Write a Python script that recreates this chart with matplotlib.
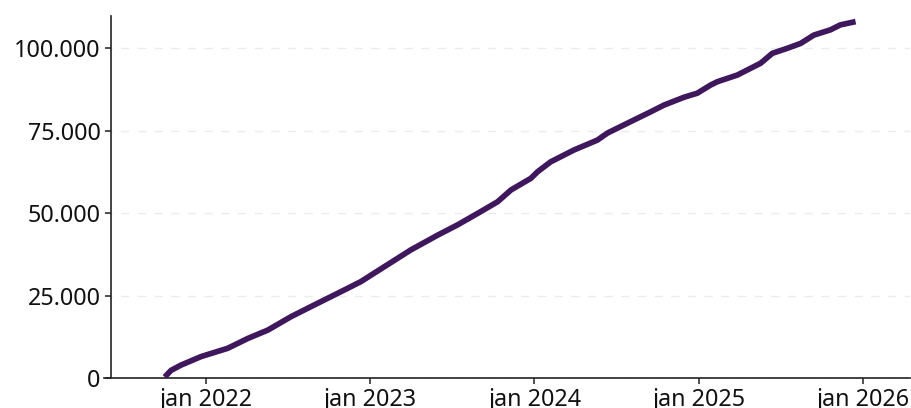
import pandas as pd
import matplotlib
matplotlib.use("Agg")
import matplotlib.pyplot as plt
import matplotlib.dates as mdates
from matplotlib.ticker import FuncFormatter

# cumulative count
dates = ["2021-10-01", "2021-10-15", "2021-11-06", "2021-12-21", "2022-02-18", "2022-04-04",
         "2022-05-18", "2022-07-09", "2022-08-29", "2022-10-21", "2022-11-12",
         "2022-12-11", "2023-02-01", "2023-04-01", "2023-05-31", "2023-07-14",
         "2023-08-28", "2023-10-11", "2023-11-10", "2023-12-24", "2024-01-08",
         "2024-02-06", "2024-03-29", "2024-05-20", "2024-06-11", "2024-08-02",
         "2024-09-16", "2024-10-15", "2024-11-29", "2024-12-28", "2025-01-27",
         "2025-02-11", "2025-03-27", "2025-05-18", "2025-06-13", "2025-07-16",
         "2025-08-15", "2025-09-13", "2025-10-20", "2025-11-11", "2025-12-15"]
values = [300, 2300, 3900, 6500, 9000, 12000,
          14500, 18600, 22100, 25700, 27200,
          29200, 33700, 38800, 43300, 46400,
          49900, 53400, 57000, 60500, 62500,
          65500, 69100, 72100, 74200, 77700,
          80700, 82700, 85100, 86300, 88800,
          89800, 91800, 95400, 98400, 99900,
          101400, 103900, 105500, 107000, 108000]

yticks = [0, 25000, 50000, 75000, 100000]
months_nl = ["jan", "feb", "mrt", "apr", "mei", "jun", "jul", "aug", "sep", "okt", "nov", "dec"]

df = pd.DataFrame({"date": pd.to_datetime(dates), "value": values})

plt.rcParams["font.family"] = ["Noto Sans", "DejaVu Sans"]

fig = plt.figure(figsize=(9.12, 4.08), dpi=100)
ax = fig.add_axes([104 / 912, 30 / 408, 806 / 912, 362 / 408])

ax.plot(df["date"], df["value"], color="#3f175d", linewidth=4.1, solid_capstyle="butt",
        solid_joinstyle="round", zorder=3)

ax.set_xlim(pd.Timestamp("2021-05-19"), pd.Timestamp("2026-04-15"))
ax.set_ylim(0, 109700)

ax.set_yticks(yticks)
ax.yaxis.set_major_formatter(FuncFormatter(lambda v, p: f"{v:,.0f}".replace(",", ".")))
ax.xaxis.set_major_locator(mdates.YearLocator())
ax.xaxis.set_major_formatter(FuncFormatter(
    lambda v, p: f"{months_nl[mdates.num2date(v).month - 1]} {mdates.num2date(v).year}"))

ax.grid(axis="y", color="#ececec", linestyle=(0, (6, 6)), linewidth=1)
ax.set_axisbelow(True)

for s in ["top", "right"]:
    ax.spines[s].set_visible(False)
ax.spines["left"].set_position(("outward", -5.0))
for s in ["left", "bottom"]:
    ax.spines[s].set_color("#222222")
    ax.spines[s].set_linewidth(1.2)

ax.tick_params(axis="both", labelsize=16.8, length=4.5, width=1.1, color="#222222",
               labelcolor="#111111", pad=3)

fig.savefig("out.png", dpi=100)
